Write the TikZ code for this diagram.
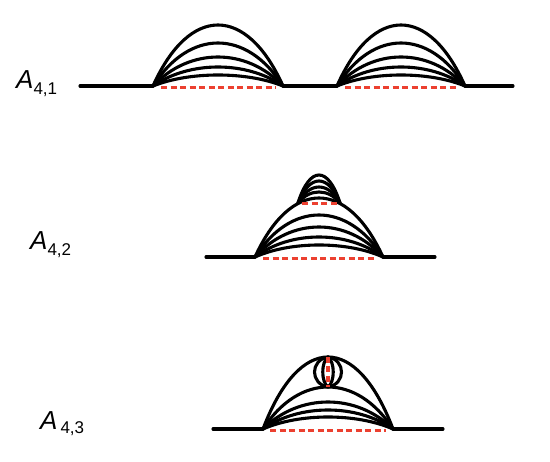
\documentclass[tikz,border=0pt]{standalone}
\usepackage{fontspec}
\setmainfont{Liberation Sans}
\usetikzlibrary{calc}

\begin{document}
\begin{tikzpicture}[x=1pt,y=-1pt,
                        arch/.style={line width=3.1pt, line cap=round, line join=round},
                        cut line/.style={line width=3.2pt, draw=cutred, dash pattern=on 6pt off 3.5pt},
                        amp label/.style={anchor=base west, inner sep=0pt, font=\fontsize{26}{26}\selectfont}]
        \definecolor{cutred}{RGB}{236,64,48}
        \useasboundingbox (0,0) rectangle (550,462);

        % A_{4,1}: two separate rainbows
        \node[amp label] (lab1) at (16,89) {\textit{A}\raisebox{-6pt}{\fontsize{17}{17}\selectfont 4,1}};
        \coordinate (s1) at (80,86);   \coordinate (e1) at (513,86);
        \coordinate (a1) at (153,86);  \coordinate (b1) at (283,86);
        \coordinate (a2) at (337,86);  \coordinate (b2) at (465,86);
        \draw[arch] (s1) -- (a1) (b1) -- (a2) (b2) -- (e1);
        \foreach \h in {61,43,29,19,11} {
          \draw[arch] (a1) .. controls ($(a1)!0.28!(b1)+(0,{-4/3*\h})$) and ($(a1)!0.72!(b1)+(0,{-4/3*\h})$) .. (b1);
          \draw[arch] (a2) .. controls ($(a2)!0.28!(b2)+(0,{-4/3*\h})$) and ($(a2)!0.72!(b2)+(0,{-4/3*\h})$) .. (b2);
        }
        \draw[cut line] (161,87.5) coordinate (c1) -- (276,87.5) coordinate (d1);
        \draw[cut line] (345,87.5) coordinate (c2) -- (458,87.5) coordinate (d2);

        % A_{4,2}: rainbow on top of a rainbow
        \node[amp label] (lab2) at (30,250) {\textit{A}\raisebox{-6pt}{\fontsize{17}{17}\selectfont 4,2}};
        \coordinate (s2) at (206,257); \coordinate (e2) at (435,257);
        \coordinate (a3) at (255,257); \coordinate (b3) at (383,257);
        \coordinate (a4) at (298,203); \coordinate (b4) at (340,203);
        \draw[arch] (s2) -- (a3) (b3) -- (e2);
        \foreach \h in {59,42,30,20,12}
          \draw[arch] (a3) .. controls ($(a3)!0.28!(b3)+(0,{-4/3*\h})$) and ($(a3)!0.72!(b3)+(0,{-4/3*\h})$) .. (b3);
        \foreach \h in {28,22,16,11}
          \draw[arch] (a4) .. controls ($(a4)!0.28!(b4)+(0,{-4/3*\h})$) and ($(a4)!0.72!(b4)+(0,{-4/3*\h})$) .. (b4);
        \draw[cut line] (302,203.5) coordinate (c4) -- (340,203.5) coordinate (d4);
        \draw[cut line] (263,258.5) coordinate (c3) -- (376,258.5) coordinate (d3);

        % A_{4,3}: rainbow with a bubble inside
        \node[amp label] (lab3) at (40,430) {\textit{A}\hspace{3pt}\raisebox{-4pt}{\fontsize{17}{17}\selectfont 4,3}};
        \coordinate (s3) at (213,429); \coordinate (e3) at (443,429);
        \coordinate (a5) at (263,429); \coordinate (b5) at (393,429);
        \coordinate (t5) at (328,357); \coordinate (u5) at (328,387);
        \draw[arch] (s3) -- (a5) (b5) -- (e3);
        \foreach \h in {72,42,27,19,12}
          \draw[arch] (a5) .. controls ($(a5)!0.28!(b5)+(0,{-4/3*\h})$) and ($(a5)!0.72!(b5)+(0,{-4/3*\h})$) .. (b5);
        \draw[arch] (t5) .. controls +(-18,3) and +(-18,-3) .. (u5);
        \draw[arch] (t5) .. controls +(18,3) and +(18,-3) .. (u5);
        \draw[arch] (t5) .. controls +(-7,5) and +(-7,-5) .. (u5);
        \draw[arch] (t5) .. controls +(7,5) and +(7,-5) .. (u5);
        \draw[cut line] (t5) -- (u5);
        \draw[cut line] (270,430.5) coordinate (c5) -- (386,430.5) coordinate (d5);
\end{tikzpicture}
\end{document}
